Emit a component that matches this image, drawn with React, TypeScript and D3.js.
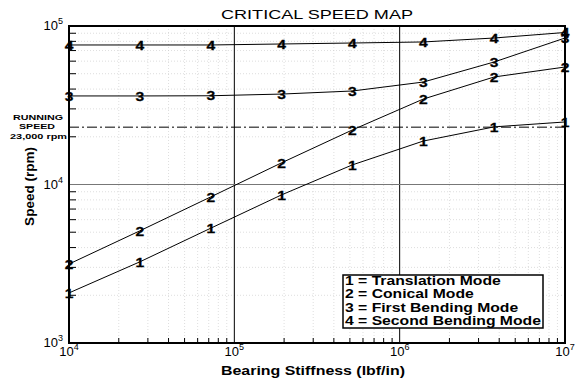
import React from 'react';
import * as d3 from 'd3';

// stiffness sample points (lbf/in)
const stiffness = [1e4, 2.68e4, 7.2e4, 1.93e5, 5.18e5, 1.39e6, 3.73e6, 1e7];

const translation = [2070, 3250, 5300, 8600, 13300, 18800, 23100, 24800];
const conical = [3150, 5100, 8350, 13700, 22100, 34600, 47700, 55100];
const firstBending = [36200, 36200, 36300, 37200, 38900, 44300, 59300, 84000];
const secondBending = [75900, 75900, 75900, 77000, 78100, 79300, 84000, 91000];

const modeLabels = ['1', '2', '3', '4'];
const legendLabels = [
  '1 = Translation Mode',
  '2 = Conical Mode',
  '3 = First Bending Mode',
  '4 = Second Bending Mode',
];
const runningSpeed = 23000;
const xDecades = [1e4, 1e5, 1e6, 1e7];
const yDecades = [1e3, 1e4, 1e5];

const W = 581;
const H = 379;
const m = { left: 69, right: 16, top: 26, bottom: 36 };
const FONT = '"Liberation Sans", Arial, sans-serif';
// the source chart renders text horizontally stretched
const STRETCH = 1.31;

const App = () => {
  const x = d3.scaleLog().domain([1e4, 1e7]).range([m.left, W - m.right]);
  const y = d3.scaleLog().domain([1e3, 1e5]).range([H - m.bottom, m.top]);
  const [x0, x1] = x.range();
  const [y0, y1] = y.range();

  const series = [translation, conical, firstBending, secondBending];
  const line = d3.line<number>()
    .x((_, i) => x(stiffness[i]))
    .y(d => y(d));

  // minor ticks 2..9 for each decade
  const xMinor = x.ticks().filter(t => !xDecades.includes(t));
  const yMinor = y.ticks().filter(t => !yDecades.includes(t));

  const sup = (v: number) => String(Math.round(Math.log10(v)));

  return (
    <svg width={W} height={H} style={{ position: 'absolute', left: 0, top: 0, background: '#fff' }}
      fontFamily={FONT}>
      <rect width={W} height={H} fill="#fff" />

      {/* dotted grid */}
      {xMinor.map(t => (
        <line key={'gx' + t} x1={x(t)} x2={x(t)} y1={y1} y2={y0}
          stroke="#c8c8c8" strokeWidth={0.6} strokeDasharray="1,2" />
      ))}
      {yMinor.map(t => (
        <line key={'gy' + t} x1={x0} x2={x1} y1={y(t)} y2={y(t)}
          stroke="#c8c8c8" strokeWidth={0.6} strokeDasharray="1,2" />
      ))}

      {/* major grid lines */}
      {[1e5, 1e6].map(t => (
        <line key={'mx' + t} x1={x(t)} x2={x(t)} y1={y1} y2={y0} stroke="#000" strokeWidth={1} />
      ))}
      <line x1={x0} x2={x1} y1={y(1e4)} y2={y(1e4)} stroke="#777" strokeWidth={1} />

      {/* running speed */}
      <line x1={x0} x2={x1} y1={y(runningSpeed)} y2={y(runningSpeed)}
        stroke="#000" strokeWidth={1} strokeDasharray="10,3,2,3" />
      <g fontSize={7.5} fontWeight="bold">
        <text x={13} y={120} textLength={50} lengthAdjust="spacingAndGlyphs">RUNNING</text>
        <text x={19} y={129} textLength={36} lengthAdjust="spacingAndGlyphs">SPEED</text>
        <text x={10} y={138.5} textLength={57} lengthAdjust="spacingAndGlyphs">23,000 rpm</text>
      </g>

      {/* series lines */}
      {series.map((s, i) => (
        <path key={'s' + i} d={line(s) || ''} fill="none" stroke="#000" strokeWidth={1} />
      ))}

      {/* frame */}
      <rect x={x0} y={y1} width={x1 - x0} height={y0 - y1} fill="none" stroke="#000" strokeWidth={2} />

      {/* minor ticks */}
      {xMinor.map(t => (
        <line key={'tx' + t} x1={x(t)} x2={x(t)} y1={y0} y2={y0 - 5} stroke="#000" strokeWidth={1} />
      ))}
      {yMinor.map(t => (
        <line key={'ty' + t} x1={x0} x2={x0 + 7} y1={y(t)} y2={y(t)} stroke="#000" strokeWidth={1} />
      ))}

      {/* mode number markers */}
      {series.map((s, i) => s.map((v, j) => (
        <text key={'m' + i + '-' + j}
          transform={`translate(${x(stiffness[j])},${y(v)}) scale(1.2,1)`} dy="0.36em"
          textAnchor="middle" fontSize={13} fontWeight="bold" fill="#000"
          stroke="#000" strokeWidth={0.3}>
          {modeLabels[i]}
        </text>
      )))}

      {/* tick labels */}
      {yDecades.map(t => (
        <text key={'yl' + t} x={x0 - 6} y={y(t) + 4} textAnchor="end" fontSize={13}>
          10<tspan fontSize={9} dy={-6}>{sup(t)}</tspan>
        </text>
      ))}
      {xDecades.map(t => (
        <text key={'xl' + t} x={x(t)} y={y0 + 13} textAnchor="middle" fontSize={13}>
          10<tspan fontSize={9} dy={-6}>{sup(t)}</tspan>
        </text>
      ))}

      {/* titles */}
      <text x={221} y={19} fontSize={13.5} textLength={192} lengthAdjust="spacingAndGlyphs">
        CRITICAL SPEED MAP
      </text>
      <text x={221} y={375} fontSize={13.5} fontWeight="bold" textLength={184}
        lengthAdjust="spacingAndGlyphs">
        Bearing Stiffness (lbf/in)
      </text>
      <text transform={`translate(34,${(y0 + y1) / 2 + 2}) rotate(-90)`} textAnchor="middle"
        fontSize={13.5} fontWeight="bold">Speed (rpm)</text>

      {/* legend */}
      <rect x={343} y={275} width={200} height={53} fill="#fff" stroke="#000" strokeWidth={1.5} />
      {legendLabels.map((l, i) => (
        <text key={'lg' + i} transform={`translate(345,${285 + i * 13.4}) scale(${STRETCH},1)`}
          fontSize={12} fontWeight="bold">{l}</text>
      ))}
    </svg>
  );
};

export default App;
